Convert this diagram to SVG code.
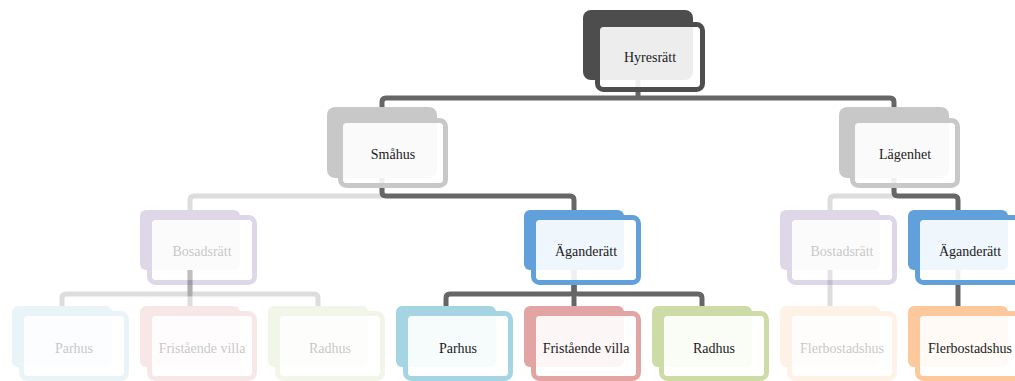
<svg xmlns="http://www.w3.org/2000/svg" width="1015" height="381" viewBox="0 0 1015 381">
  <defs>
    <style>
      .conn { fill: none; stroke: #666666; stroke-width: 5; stroke-linejoin: round; }
      .conn.dim { opacity: 0.22; }
      .dim { opacity: 0.25; }
      .lbl { font-family: "Liberation Serif", "DejaVu Serif", serif; font-size: 14px; fill: #1a1a1a; text-anchor: middle; }
      .c-dark { fill: #4d4d4d; stroke: #4d4d4d; }
      .c-gray { fill: #c8c8c8; stroke: #c8c8c8; }
      .c-purple { fill: #8064a2; stroke: #8064a2; }
      .c-blue { fill: #62a0dc; stroke: #62a0dc; }
      .c-cyan { fill: #a5d5e2; stroke: #a5d5e2; }
      .c-red { fill: #e3a5a4; stroke: #e3a5a4; }
      .c-green { fill: #cddca7; stroke: #cddca7; }
      .c-orange { fill: #fdc99c; stroke: #fdc99c; }
      rect.back { stroke: none; }
      /* front card: translucent white body with a coloured frame */
      rect.front { fill: #ffffff; fill-opacity: 0.9; stroke-width: 5; }
    </style>
  </defs>

  <!-- connectors -->
  <g id="connectors">
    <!-- Hyresrätt to level 2 -->
    <path class="conn" d="M638 80 V98"/>
    <path class="conn" d="M382 107 V102 Q382 98 386 98 H890 Q894 98 894 102 V107"/>
    <!-- Småhus -->
    <path class="conn dim" d="M382 178 V196 H194 Q190 196 190 200 V210"/>
    <path class="conn" d="M382 178 V192 Q382 196 386 196 H570 Q574 196 574 200 V210"/>
    <!-- Lägenhet -->
    <path class="conn dim" d="M894 178 V196 H834 Q830 196 830 200 V210"/>
    <path class="conn" d="M894 178 V192 Q894 196 898 196 H954 Q958 196 958 200 V210"/>
    <!-- Bosadsrätt -->
    <path class="conn dim" d="M190 270 V294 H66 Q62 294 62 298 V306"/>
    <path class="conn dim" d="M190 270 V306"/>
    <path class="conn dim" d="M190 270 V294 H314 Q318 294 318 298 V306"/>
    <!-- Äganderätt (Småhus) -->
    <path class="conn" d="M574 270 V290 Q574 294 570 294 H450 Q446 294 446 298 V306"/>
    <path class="conn" d="M574 270 V306"/>
    <path class="conn" d="M574 270 V290 Q574 294 578 294 H698 Q702 294 702 298 V306"/>
    <!-- Bostadsrätt / Äganderätt (Lägenhet) -->
    <path class="conn dim" d="M830 270 V306"/>
    <path class="conn" d="M958 270 V306"/>
  </g>

  <!-- level 1 -->
  <g id="hyresratt">
    <rect class="back c-dark" x="583" y="10" width="110" height="70" rx="8"/>
    <rect class="front c-dark" x="597.5" y="24.5" width="105" height="65" rx="6"/>
    <text class="lbl" x="650" y="62">Hyresrätt</text>
  </g>

  <!-- level 2 -->
  <g id="smahus">
    <rect class="back c-gray" x="327" y="107" width="110" height="71" rx="8"/>
    <rect class="front c-gray" x="340.5" y="120.5" width="105" height="65" rx="6"/>
    <text class="lbl" x="393" y="159">Småhus</text>
  </g>
  <g id="lagenhet">
    <rect class="back c-gray" x="839" y="107" width="110" height="71" rx="8"/>
    <rect class="front c-gray" x="852.5" y="120.5" width="105" height="65" rx="6"/>
    <text class="lbl" x="905" y="159">Lägenhet</text>
  </g>

  <!-- level 3 -->
  <g id="bosadsratt" class="dim">
    <rect class="back c-purple" x="140" y="210" width="100" height="60" rx="6"/>
    <rect class="front c-purple" x="149.5" y="217.5" width="105" height="65" rx="6"/>
    <text class="lbl" x="202" y="256">Bosadsrätt</text>
  </g>
  <g id="aganderatt-smahus">
    <rect class="back c-blue" x="524" y="210" width="100" height="60" rx="6"/>
    <rect class="front c-blue" x="533.5" y="217.5" width="105" height="65" rx="6"/>
    <text class="lbl" x="586" y="256">Äganderätt</text>
  </g>
  <g id="bostadsratt" class="dim">
    <rect class="back c-purple" x="780" y="210" width="100" height="60" rx="6"/>
    <rect class="front c-purple" x="789.5" y="217.5" width="105" height="65" rx="6"/>
    <text class="lbl" x="842" y="256">Bostadsrätt</text>
  </g>
  <g id="aganderatt-lagenhet">
    <rect class="back c-blue" x="908" y="210" width="100" height="60" rx="6"/>
    <rect class="front c-blue" x="917.5" y="217.5" width="105" height="65" rx="6"/>
    <text class="lbl" x="970" y="256">Äganderätt</text>
  </g>

  <!-- level 4 -->
  <g id="parhus-dim" class="dim">
    <rect class="back c-cyan" x="12" y="306" width="100" height="61" rx="6"/>
    <rect class="front c-cyan" x="21.5" y="313.5" width="105" height="65" rx="6"/>
    <text class="lbl" x="74" y="353">Parhus</text>
  </g>
  <g id="villa-dim" class="dim">
    <rect class="back c-red" x="140" y="306" width="100" height="61" rx="6"/>
    <rect class="front c-red" x="149.5" y="313.5" width="105" height="65" rx="6"/>
    <text class="lbl" x="202" y="353">Fristående villa</text>
  </g>
  <g id="radhus-dim" class="dim">
    <rect class="back c-green" x="268" y="306" width="100" height="61" rx="6"/>
    <rect class="front c-green" x="277.5" y="313.5" width="105" height="65" rx="6"/>
    <text class="lbl" x="330" y="353">Radhus</text>
  </g>
  <g id="parhus">
    <rect class="back c-cyan" x="396" y="306" width="100" height="61" rx="6"/>
    <rect class="front c-cyan" x="405.5" y="313.5" width="105" height="65" rx="6"/>
    <text class="lbl" x="458" y="353">Parhus</text>
  </g>
  <g id="villa">
    <rect class="back c-red" x="524" y="306" width="100" height="61" rx="6"/>
    <rect class="front c-red" x="533.5" y="313.5" width="105" height="65" rx="6"/>
    <text class="lbl" x="586" y="353">Fristående villa</text>
  </g>
  <g id="radhus">
    <rect class="back c-green" x="652" y="306" width="100" height="61" rx="6"/>
    <rect class="front c-green" x="661.5" y="313.5" width="105" height="65" rx="6"/>
    <text class="lbl" x="714" y="353">Radhus</text>
  </g>
  <g id="flerbostadshus-dim" class="dim">
    <rect class="back c-orange" x="780" y="306" width="100" height="61" rx="6"/>
    <rect class="front c-orange" x="789.5" y="313.5" width="105" height="65" rx="6"/>
    <text class="lbl" x="842" y="353">Flerbostadshus</text>
  </g>
  <g id="flerbostadshus">
    <rect class="back c-orange" x="908" y="306" width="100" height="61" rx="6"/>
    <rect class="front c-orange" x="917.5" y="313.5" width="105" height="65" rx="6"/>
    <text class="lbl" x="970" y="353">Flerbostadshus</text>
  </g>
</svg>
